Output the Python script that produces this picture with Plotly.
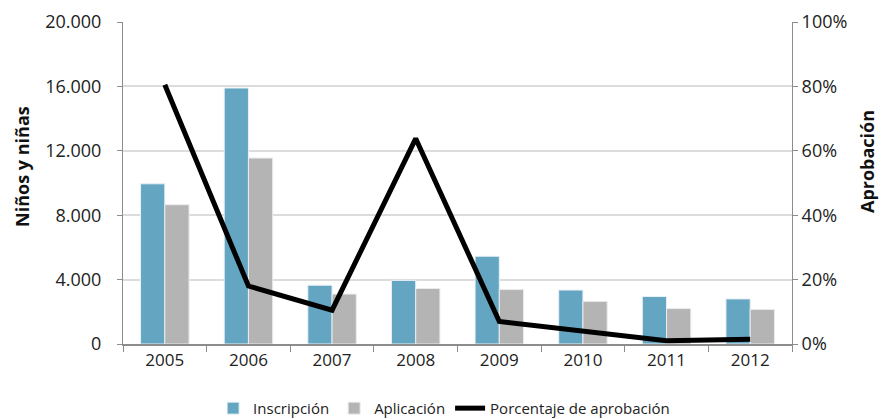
import plotly.graph_objects as go

years = ["2005", "2006", "2007", "2008", "2009", "2010", "2011", "2012"]
inscripcion = [9950, 15900, 3650, 3950, 5450, 3350, 2950, 2800]
aplicacion = [8650, 11550, 3100, 3450, 3380, 2650, 2200, 2150]
aprobacion_pct = [80.5, 18.0, 10.5, 63.8, 7.0, 4.0, 1.0, 1.5]

left_ticks = [0, 4000, 8000, 12000, 16000, 20000]
left_labels = ["0", "4.000", "8.000", "12.000", "16.000", "20.000"]
right_ticks = [0, 20, 40, 60, 80, 100]
right_labels = ["0%", "20%", "40%", "60%", "80%", "100%"]

family = "Open Sans, DejaVu Sans, sans-serif"
ytick_font = dict(family=family, size=18, color="#222222")
xtick_font = dict(family=family, size=17, color="#222222")
title_font = dict(family=family, size=18, color="#111111")
axis_col = "#8c8c8c"
grid_col = "#dcdcdc"

fig = go.Figure()
fig.add_trace(go.Bar(
    x=years, y=inscripcion, name="Inscripción",
    marker=dict(color="#64a5c1", line=dict(color="#e8f1f5", width=1)),
))
fig.add_trace(go.Bar(
    x=years, y=aplicacion, name="Aplicación",
    marker=dict(color="#b4b4b4", line=dict(color="#ececec", width=1)),
))
fig.add_trace(go.Scatter(
    x=years, y=aprobacion_pct, name="Porcentaje de aprobación",
    mode="lines", line=dict(color="black", width=5), yaxis="y2",
))

fig.update_layout(
    width=884, height=419,
    margin=dict(l=123, r=92, t=22, b=75, autoexpand=False),
    plot_bgcolor="white", paper_bgcolor="white",
    barmode="group", bargap=0.42, bargroupgap=0,
    showlegend=True,
    legend=dict(
        orientation="h", x=0.48, xanchor="center", y=-0.2, yanchor="middle",
        font=dict(family="Liberation Sans Narrow, Open Sans, sans-serif", size=15, color="#222222"),
        itemwidth=30, tracegroupgap=0,
    ),
    xaxis=dict(
        type="category", tickfont=xtick_font,
        showline=True, linecolor=axis_col, linewidth=2,
        ticks="outside", tickson="boundaries", ticklen=6, tickcolor=axis_col,
        showgrid=False,
    ),
    yaxis=dict(
        range=[0, 20000], tickvals=left_ticks, ticktext=left_labels,
        tickfont=ytick_font, showline=True, linecolor=axis_col, linewidth=1,
        ticks="outside", ticklen=5, tickcolor=axis_col, ticklabelstandoff=12,
        showgrid=True, gridcolor=grid_col, gridwidth=1.5, zeroline=False,
    ),
    yaxis2=dict(
        range=[0, 100], tickvals=right_ticks, ticktext=right_labels,
        overlaying="y", side="right",
        tickfont=ytick_font, showline=True, linecolor=axis_col, linewidth=1,
        ticks="outside", ticklen=5, tickcolor=axis_col,
        showgrid=False, zeroline=False,
    ),
    annotations=[
        dict(text="<b>Niños y niñas</b>", textangle=-90, font=title_font,
             xref="paper", yref="paper", x=-0.151, y=0.553,
             xanchor="center", yanchor="middle", showarrow=False),
        dict(text="<b>Aprobación</b>", textangle=-90, font=title_font,
             xref="paper", yref="paper", x=1.113, y=0.567,
             xanchor="center", yanchor="middle", showarrow=False),
    ],
)

fig.write_html("out.html")
